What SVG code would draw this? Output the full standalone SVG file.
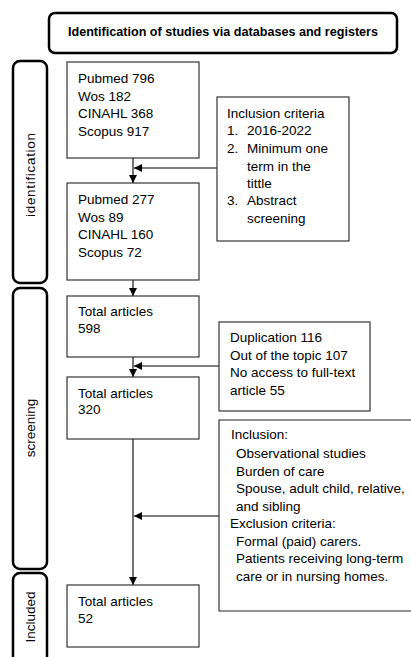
<svg xmlns="http://www.w3.org/2000/svg" width="411" height="657" viewBox="0 0 411 657">
<style>
text{font-family:"Liberation Sans",Arial,sans-serif;font-size:13.5px;fill:#000}
.box{fill:#fff;stroke:#222;stroke-width:1.1}
.phase{fill:#fff;stroke:#000;stroke-width:2.5}
.hdr{font-weight:bold;font-size:12.6px}
.con{stroke:#000;stroke-width:1.1;fill:none}
</style>
<defs>
<marker id="ah" viewBox="0 0 10 10" refX="10" refY="5" markerWidth="8" markerHeight="8" markerUnits="userSpaceOnUse" orient="auto">
<path d="M0,0L10,5L0,10z" fill="#000"/>
</marker>
</defs>
<rect width="411" height="657" fill="#fff"/>
<g id="header">
<rect class="phase" x="49" y="13" width="348" height="40" rx="6"/>
<text class="hdr" x="223" y="35.5" text-anchor="middle">Identification of studies via databases and registers</text>
</g>
<g id="phase-identification">
<rect class="phase" x="13" y="61" width="34" height="222" rx="7"/>
<text x="0" y="0" text-anchor="middle" textLength="84" transform="translate(34.5,175) rotate(-90)">identification</text>
</g>
<g id="phase-screening">
<rect class="phase" x="13" y="288" width="34" height="281" rx="7"/>
<text x="0" y="0" text-anchor="middle" transform="translate(34.5,428) rotate(-90)">screening</text>
</g>
<g id="phase-included">
<rect class="phase" x="13" y="573" width="34" height="100" rx="7"/>
<text x="0" y="0" text-anchor="middle" transform="translate(34.5,617) rotate(-90)">Included</text>
</g>
<g id="connectors">
<line class="con" x1="133" y1="158" x2="133" y2="183" marker-end="url(#ah)"/>
<line class="con" x1="217" y1="168" x2="134" y2="168" marker-end="url(#ah)"/>
<line class="con" x1="133" y1="280" x2="133" y2="296" marker-end="url(#ah)"/>
<line class="con" x1="133" y1="357" x2="133" y2="377" marker-end="url(#ah)"/>
<line class="con" x1="219" y1="366" x2="134" y2="366" marker-end="url(#ah)"/>
<line class="con" x1="133" y1="439" x2="133" y2="585" marker-end="url(#ah)"/>
<line class="con" x1="219" y1="516" x2="134" y2="516" marker-end="url(#ah)"/>
</g>
<g id="n-search">
<rect class="box" x="67" y="62" width="132" height="96"/>
<text x="78" y="83">Pubmed 796</text>
<text x="78" y="100.5">Wos 182</text>
<text x="78" y="118">CINAHL 368</text>
<text x="78" y="135.5">Scopus 917</text>
</g>
<g id="n-inclusion-criteria">
<rect class="box" x="217" y="97" width="132" height="144"/>
<text x="227" y="118">Inclusion criteria</text>
<text x="227" y="135">1.</text><text x="247" y="135">2016-2022</text>
<text x="227" y="153">2.</text><text x="247" y="153">Minimum one</text>
<text x="247" y="171">term in the</text>
<text x="247" y="188">tittle</text>
<text x="227" y="205">3.</text><text x="247" y="205">Abstract</text>
<text x="247" y="223">screening</text>
</g>
<g id="n-filtered">
<rect class="box" x="67" y="183" width="132" height="97"/>
<text x="78" y="204">Pubmed 277</text>
<text x="78" y="221.5">Wos 89</text>
<text x="78" y="239">CINAHL 160</text>
<text x="78" y="256.5">Scopus 72</text>
</g>
<g id="n-total598">
<rect class="box" x="67" y="296" width="132" height="61"/>
<text x="78" y="316">Total articles</text>
<text x="78" y="333">598</text>
</g>
<g id="n-duplication">
<rect class="box" x="219" y="322" width="151" height="89"/>
<text x="230" y="342">Duplication 116</text>
<text x="230" y="360">Out of the topic 107</text>
<text x="230" y="377">No access to full-text</text>
<text x="230" y="395">article 55</text>
</g>
<g id="n-total320">
<rect class="box" x="67" y="377" width="132" height="62"/>
<text x="78" y="398">Total articles</text>
<text x="78" y="414">320</text>
</g>
<g id="n-eligibility">
<path class="box" d="M412,420H219V611H412"/>
<text x="231" y="439">Inclusion:</text>
<text x="236" y="457.5">Observational studies</text>
<text x="236" y="475.5">Burden of care</text>
<text x="236" y="493">Spouse, adult child, relative,</text>
<text x="236" y="511">and sibling</text>
<text x="230" y="528">Exclusion criteria:</text>
<text x="236" y="546">Formal (paid) carers.</text>
<text x="236" y="563">Patients receiving long-term</text>
<text x="236" y="581">care or in nursing homes.</text>
</g>
<g id="n-total52">
<rect class="box" x="67" y="585" width="132" height="62"/>
<text x="78" y="606">Total articles</text>
<text x="78" y="623">52</text>
</g>
</svg>
